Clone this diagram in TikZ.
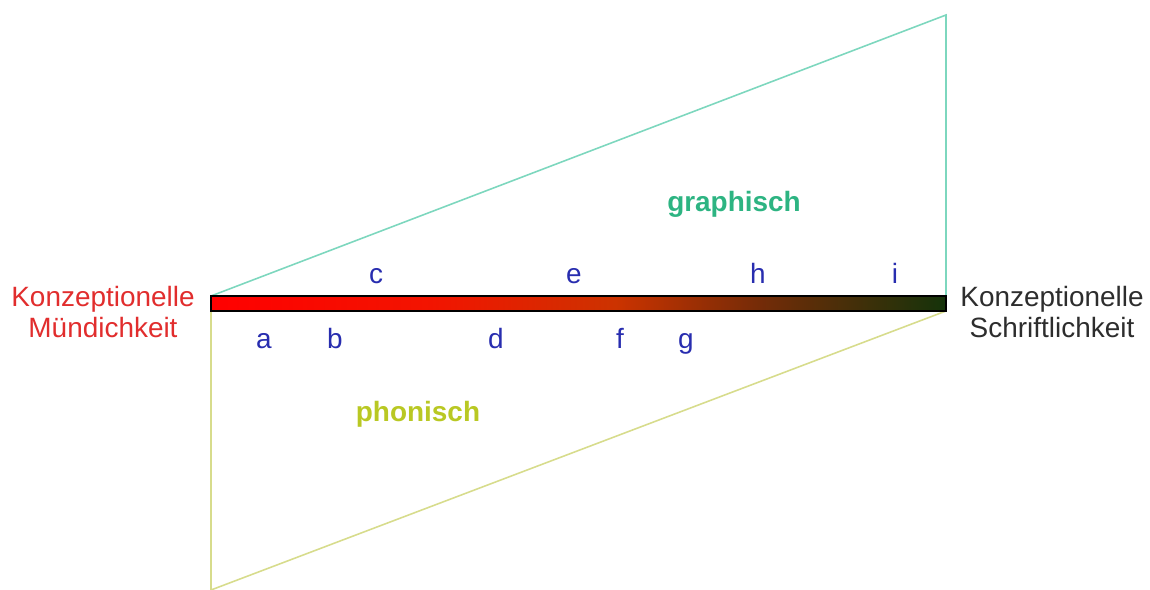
\documentclass[tikz,border=0pt]{standalone}
\usepackage{fontspec}
\setmainfont{Liberation Sans}
\usepackage{xcolor}
\usepackage{tikz}
\usetikzlibrary{positioning, calc}

\definecolor{muendred}{RGB}{225,45,45}
\definecolor{schriftgray}{RGB}{45,45,45}
\definecolor{graphteal}{RGB}{45,180,130}
\definecolor{graphline}{RGB}{125,215,190}
\definecolor{phonyellow}{RGB}{185,200,35}
\definecolor{phonline}{RGB}{215,220,140}
\definecolor{letterblue}{RGB}{40,45,175}

% red stays red for a long stretch, then browns off into dark green
\pgfdeclarehorizontalshading{continuum}{100bp}{
	rgb(0bp)=(1,0,0); rgb(25bp)=(1,0,0);
	rgb(40bp)=(0.95,0.08,0); rgb(52.5bp)=(0.80,0.20,0);
	rgb(62.5bp)=(0.45,0.17,0.03); rgb(75bp)=(0.08,0.20,0.04);
	rgb(100bp)=(0.08,0.20,0.04)}

\begin{document}
\begin{tikzpicture}[
		x=0.02cm, y=-0.02cm,
		pole/.style={align=center, font=\fontsize{15.9}{17.5}\selectfont},
		medium/.style={font=\fontsize{15.9}{17}\selectfont\bfseries},
		lett/.style={text=letterblue, font=\fontsize{15.9}{17}\selectfont,
			inner sep=0pt, anchor=base}
	]
	\useasboundingbox (0,0) rectangle (1150,590);

	% corners of the continuum bar and of the two wedges
	\coordinate (barNW) at (211,296);
	\coordinate (barSE) at (946,311);
	\coordinate (barNE) at (946,296);
	\coordinate (barSW) at (211,311);
	\coordinate (graphtop) at (946,15);
	\coordinate (phonbot) at (211,590);

	% graphic wedge above, phonic wedge below
	\draw[graphline, line width=0.9pt] (barNW) -- (graphtop) -- (barNE);
	\draw[phonline, line width=0.9pt] (barSW) -- (phonbot) -- (barSE);

	% the continuum itself
	\shade[shading=continuum, draw=black, line width=0.8pt]
		(barNW) rectangle (barSE);

	\node[pole, text=muendred] (muend) at (103,312) {Konzeptionelle\\Mündichkeit};
	\node[pole, text=schriftgray] (schrift) at (1052,312) {Konzeptionelle\\Schriftlichkeit};

	\node[medium, text=graphteal] (graph) at (734,204) {graphisch};
	\node[medium, text=phonyellow] (phon) at (418,414) {phonisch};

	% examples above the bar (on a common baseline)
	\node[lett] (lc) at (376,284) {c};
	\node[lett] (le) at (574,284) {e};
	\node[lett] (lh) at (758,284) {h};
	\node[lett] (li) at (895,284) {i};
	% examples below the bar
	\node[lett] (la) at (264,349) {a};
	\node[lett] (lb) at (335,349) {b};
	\node[lett] (ld) at (496,349) {d};
	\node[lett] (lf) at (620,349) {f};
	\node[lett] (lg) at (686,349) {g};
\end{tikzpicture}
\end{document}
